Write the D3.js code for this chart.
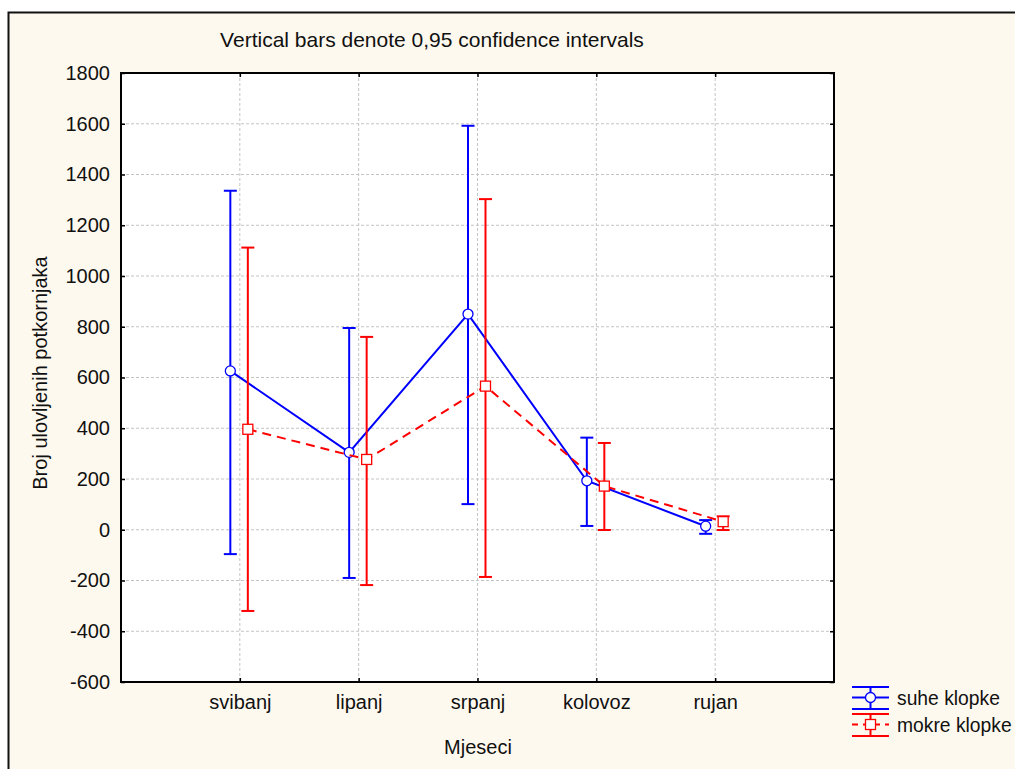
<!DOCTYPE html>
<html><head><meta charset="utf-8">
<script src="https://cdn.jsdelivr.net/npm/d3@7"></script>
<style>body{margin:0;background:#fff;}svg{display:block;font-family:"Liberation Sans",Arial,sans-serif;}</style>
</head><body>
<script>
const categories = ["svibanj","lipanj","srpanj","kolovoz","rujan"];
const suheMean  = [626, 305, 850, 193, 14];
const suheLow   = [-96, -190, 101, 15, -16];
const suheHigh  = [1336, 795, 1592, 363, 38];
const mokreMean = [396, 277, 566, 172, 32];
const mokreLow  = [-320, -218, -186, -1, -1];
const mokreHigh = [1112, 760, 1303, 342, 53];
const yTicks = [-600,-400,-200,0,200,400,600,800,1000,1200,1400,1600,1800];
const titleText = "Vertical bars denote 0,95 confidence intervals";
const xLabel = "Mjeseci", yLabel = "Broj ulovljenih potkornjaka";
const seriesNames = ["suhe klopke","mokre klopke"];

const W=1015,H=769,FS=20;
const svg=d3.select("body").append("svg").attr("width",W).attr("height",H);
svg.append("rect").attr("x",0).attr("y",0).attr("width",W).attr("height",H).attr("fill","#fff");
svg.append("rect").attr("x",8.5).attr("y",12.5).attr("width",W+20).attr("height",H+20)
  .attr("fill","#FEF9EF").attr("stroke","#111").attr("stroke-width",2);

const L=121,R=834,T=73,B=682;
const x=d3.scaleLinear().domain([0,6]).range([L,R]);
const y=d3.scaleLinear().domain([-600,1800]).range([B,T]);
svg.append("rect").attr("x",L).attr("y",T).attr("width",R-L).attr("height",B-T).attr("fill","#fff");

const g=svg.append("g");
g.selectAll(".hg").data(yTicks.slice(1,-1)).join("line")
  .attr("x1",L).attr("x2",R).attr("y1",d=>y(d)).attr("y2",d=>y(d))
  .attr("stroke","#c4c4c4").attr("stroke-dasharray","3,2").attr("stroke-width",1);
g.selectAll(".vg").data(categories).join("line")
  .attr("x1",(d,i)=>x(i+1)).attr("x2",(d,i)=>x(i+1)).attr("y1",T).attr("y2",B)
  .attr("stroke","#c4c4c4").attr("stroke-dasharray","3,2").attr("stroke-width",1);

const yAx=d3.axisLeft(y).tickValues(yTicks).tickSize(-4).tickPadding(11).tickFormat(d=>String(d));
const ya=svg.append("g").attr("transform",`translate(${L},0)`).call(yAx);
const yaR=svg.append("g").attr("transform",`translate(${R},0)`).call(d3.axisRight(y).tickValues(yTicks).tickSize(-4).tickFormat(""));
const xAx=d3.axisBottom(x).tickValues([1,2,3,4,5]).tickSize(-4).tickPadding(13).tickFormat(d=>categories[d-1]);
const xa=svg.append("g").attr("transform",`translate(0,${B})`).call(xAx);
const xaT=svg.append("g").attr("transform",`translate(0,${T})`).call(d3.axisTop(x).tickValues([1,2,3,4,5]).tickSize(-4).tickFormat(""));
[ya,yaR,xa,xaT].forEach(a=>{a.attr("font-size",FS).attr("font-family","Liberation Sans, Arial, sans-serif");
  a.select(".domain").remove();a.selectAll("line").attr("stroke","#000").attr("stroke-width",1.5);
  a.selectAll("text").attr("fill","#111");});
svg.append("rect").attr("x",L).attr("y",T).attr("width",R-L).attr("height",B-T).attr("fill","none").attr("stroke","#000").attr("stroke-width",2);

const series=[
 {mean:suheMean,low:suheLow,high:suheHigh,off:-9.5,color:"#0000FF",dash:null,shape:"circle"},
 {mean:mokreMean,low:mokreLow,high:mokreHigh,off:8,color:"#FF0000",dash:"9,6",shape:"square"}
];
series.forEach(s=>{
  const pts=s.mean.map((m,i)=>({i,m,lo:s.low[i],hi:s.high[i],cx:x(i+1)+s.off}));
  const sg=svg.append("g");
  sg.selectAll(".eb").data(pts).join("line").attr("x1",d=>d.cx).attr("x2",d=>d.cx)
    .attr("y1",d=>y(d.lo)).attr("y2",d=>y(d.hi)).attr("stroke",s.color).attr("stroke-width",2);
  ["lo","hi"].forEach(k=>{
    sg.selectAll(".cap"+k).data(pts).join("line").attr("x1",d=>d.cx-6.5).attr("x2",d=>d.cx+6.5)
      .attr("y1",d=>y(d[k])).attr("y2",d=>y(d[k])).attr("stroke",s.color).attr("stroke-width",2);
  });
  sg.append("path").datum(pts).attr("d",d3.line().x(d=>d.cx).y(d=>y(d.m)))
    .attr("fill","none").attr("stroke",s.color).attr("stroke-width",2).attr("stroke-dasharray",s.dash);
  if(s.shape==="circle"){
    sg.selectAll(".mk").data(pts).join("circle").attr("cx",d=>d.cx).attr("cy",d=>y(d.m)).attr("r",5)
      .attr("fill","#fff").attr("stroke",s.color).attr("stroke-width",1.3);
  } else {
    sg.selectAll(".mk").data(pts).join("rect").attr("x",d=>d.cx-5).attr("y",d=>y(d.m)-5).attr("width",10).attr("height",10)
      .attr("fill","#fff").attr("stroke",s.color).attr("stroke-width",1.3);
  }
});

svg.append("text").attr("x",432).attr("y",47).attr("text-anchor","middle").attr("font-size",21).attr("fill","#111").text(titleText);
svg.append("text").attr("x",478).attr("y",754).attr("text-anchor","middle").attr("font-size",FS).attr("fill","#111").text(xLabel);
svg.append("text").attr("transform","translate(47,373) rotate(-90)").attr("text-anchor","middle").attr("font-size",FS).attr("fill","#111").text(yLabel);

const leg=[{name:seriesNames[0],c:"#0000FF",dash:null,shape:"circle",top:687,mid:697.5,bot:709},
           {name:seriesNames[1],c:"#FF0000",dash:"6,5",shape:"square",top:714,mid:724.5,bot:736}];
leg.forEach(l=>{
  const lg=svg.append("g");
  lg.append("line").attr("x1",852).attr("x2",889).attr("y1",l.top).attr("y2",l.top).attr("stroke",l.c).attr("stroke-width",2);
  lg.append("line").attr("x1",852).attr("x2",889).attr("y1",l.bot).attr("y2",l.bot).attr("stroke",l.c).attr("stroke-width",2);
  lg.append("line").attr("x1",870.5).attr("x2",870.5).attr("y1",l.top).attr("y2",l.bot).attr("stroke",l.c).attr("stroke-width",2);
  lg.append("line").attr("x1",852).attr("x2",889).attr("y1",l.mid).attr("y2",l.mid).attr("stroke",l.c).attr("stroke-width",2).attr("stroke-dasharray",l.dash);
  if(l.shape==="circle") lg.append("circle").attr("cx",870.5).attr("cy",l.mid).attr("r",5).attr("fill","#fff").attr("stroke",l.c).attr("stroke-width",1.3);
  else lg.append("rect").attr("x",865.5).attr("y",l.mid-5).attr("width",10).attr("height",10).attr("fill","#fff").attr("stroke",l.c).attr("stroke-width",1.3);
  lg.append("text").attr("x",897).attr("y",l.mid+7).attr("font-size",19.3).attr("fill","#111").text(l.name);
});
</script>
</body></html>
